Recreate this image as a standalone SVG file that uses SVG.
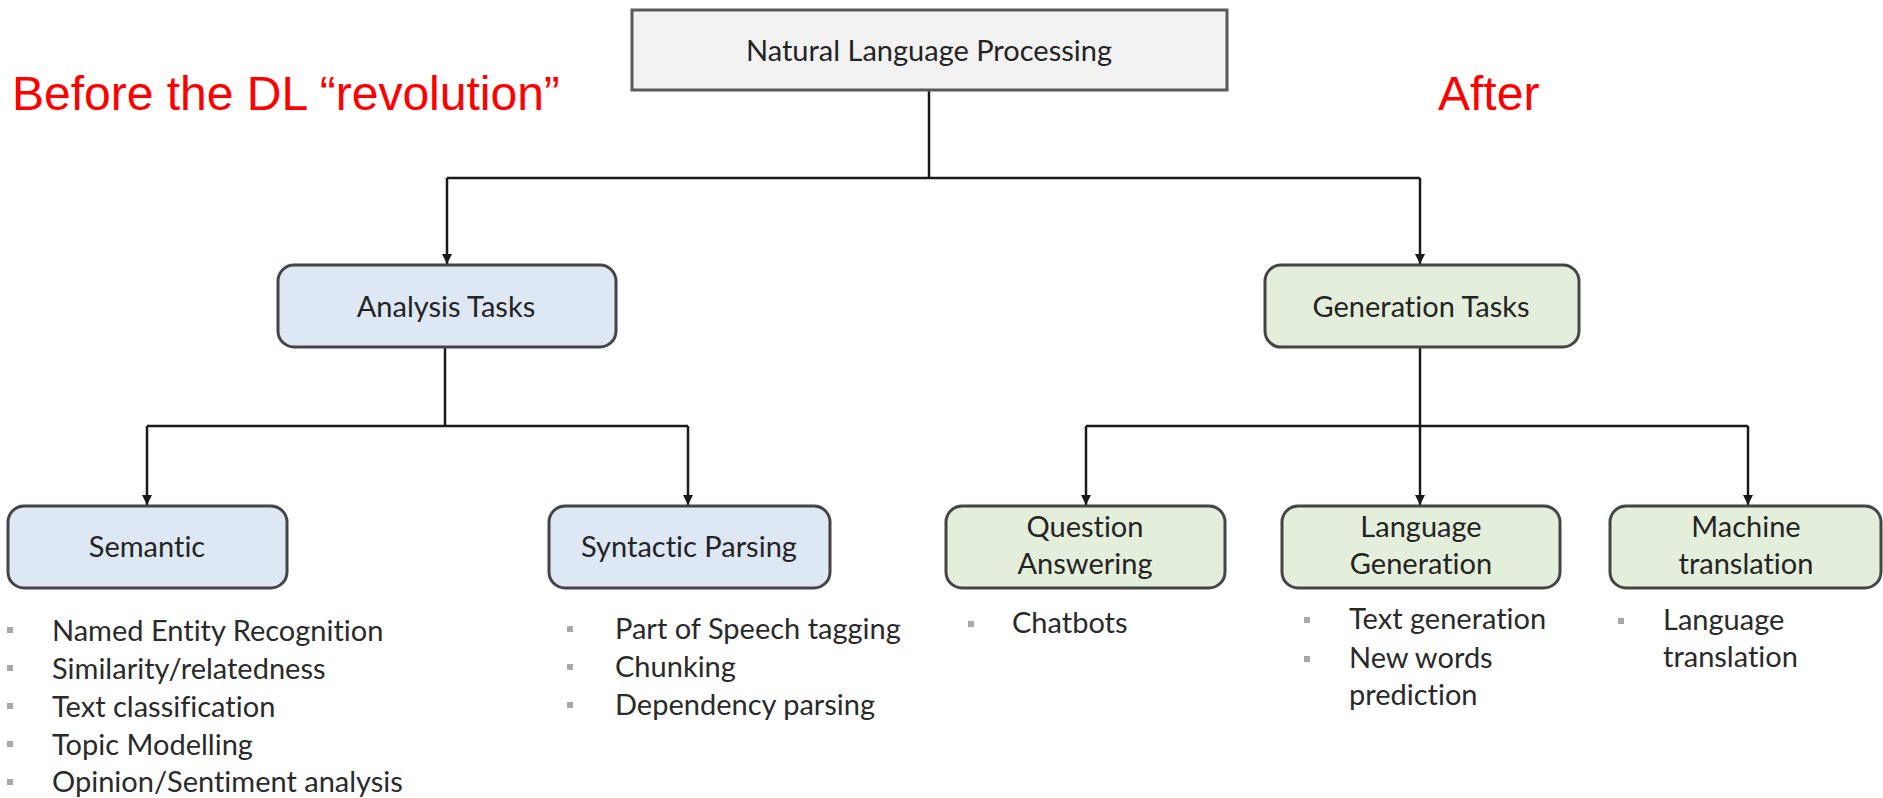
<svg xmlns="http://www.w3.org/2000/svg" width="1883" height="798" viewBox="0 0 1883 798">
  <style>
    .box { stroke: #454545; stroke-width: 3; }
    .root { fill: #f2f2f2; stroke: #5a5a5a; stroke-width: 3; }
    .blue { fill: #dde8f4; }
    .green { fill: #e4efdb; }
    .lbl { font-family: Lato, "Open Sans", sans-serif; font-size: 29px; fill: #242424; text-anchor: middle; font-variant-ligatures: none; }
    .item { font-family: Lato, "Open Sans", sans-serif; font-size: 29px; fill: #2a2a2a; font-variant-ligatures: none; }
    .bul { fill: #a8a8a8; }
    .red { font-family: "Liberation Sans", Arial, sans-serif; font-size: 48px; fill: #ff0000; }
    .wire { fill: none; stroke: #1a1a1a; stroke-width: 2.5; }
  </style>
  <defs>
    <marker id="arrow" viewBox="0 0 10 10" refX="10" refY="5" markerWidth="10" markerHeight="10" markerUnits="userSpaceOnUse" orient="auto">
      <path d="M0 0 L10 5 L0 10 Z" fill="#1a1a1a"/>
    </marker>
  </defs>

  <rect width="1883" height="798" fill="#ffffff"/>

  <!-- era captions -->
  <text class="red" x="12" y="110">Before the DL “revolution”</text>
  <text class="red" x="1438" y="110">After</text>

  <!-- connectors: trunks, bus bars, then one arrowed drop per child -->
  <g id="connectors">
    <path class="wire" d="M929 90 V178"/>
    <path class="wire" d="M447 178 H1420"/>
    <path class="wire" d="M447 178 V264" marker-end="url(#arrow)"/>
    <path class="wire" d="M1420 178 V264" marker-end="url(#arrow)"/>

    <path class="wire" d="M445 347 V426"/>
    <path class="wire" d="M147 426 H688"/>
    <path class="wire" d="M147 426 V505" marker-end="url(#arrow)"/>
    <path class="wire" d="M688 426 V505" marker-end="url(#arrow)"/>

    <path class="wire" d="M1420 347 V505" marker-end="url(#arrow)"/>
    <path class="wire" d="M1086 426 H1748"/>
    <path class="wire" d="M1086 426 V505" marker-end="url(#arrow)"/>
    <path class="wire" d="M1748 426 V505" marker-end="url(#arrow)"/>
  </g>

  <g id="nlp">
    <rect class="root" x="632" y="10" width="595" height="80"/>
    <text class="lbl" x="929" y="61">Natural Language Processing</text>
  </g>

  <g id="analysis">
    <rect class="box blue" x="278" y="265" width="338" height="82" rx="16"/>
    <text class="lbl" x="446" y="317">Analysis Tasks</text>
  </g>

  <g id="generation">
    <rect class="box green" x="1265" y="265" width="314" height="82" rx="16"/>
    <text class="lbl" x="1421" y="317">Generation Tasks</text>
  </g>

  <g id="semantic">
    <rect class="box blue" x="8" y="506" width="279" height="82" rx="16"/>
    <text class="lbl" x="147" y="557">Semantic</text>
    <rect class="bul" x="7" y="627" width="6" height="6"/>
    <rect class="bul" x="7" y="665" width="6" height="6"/>
    <rect class="bul" x="7" y="703" width="6" height="6"/>
    <rect class="bul" x="7" y="741" width="6" height="6"/>
    <rect class="bul" x="7" y="779" width="6" height="6"/>
    <text class="item" x="52" y="641">Named Entity Recognition</text>
    <text class="item" x="52" y="679">Similarity/relatedness</text>
    <text class="item" x="52" y="717">Text classification</text>
    <text class="item" x="52" y="755">Topic Modelling</text>
    <text class="item" x="52" y="792">Opinion/Sentiment analysis</text>
  </g>

  <g id="syntactic">
    <rect class="box blue" x="549" y="506" width="281" height="82" rx="16"/>
    <text class="lbl" x="689" y="557">Syntactic Parsing</text>
    <rect class="bul" x="567" y="626" width="6" height="6"/>
    <rect class="bul" x="567" y="664" width="6" height="6"/>
    <rect class="bul" x="567" y="702" width="6" height="6"/>
    <text class="item" x="615" y="639">Part of Speech tagging</text>
    <text class="item" x="615" y="677">Chunking</text>
    <text class="item" x="615" y="715">Dependency parsing</text>
  </g>

  <g id="qa">
    <rect class="box green" x="946" y="506" width="279" height="82" rx="16"/>
    <text class="lbl" x="1085" y="537">Question</text>
    <text class="lbl" x="1085" y="574">Answering</text>
    <rect class="bul" x="968" y="621" width="6" height="6"/>
    <text class="item" x="1012" y="633">Chatbots</text>
  </g>

  <g id="langgen">
    <rect class="box green" x="1282" y="506" width="278" height="82" rx="16"/>
    <text class="lbl" x="1421" y="537">Language</text>
    <text class="lbl" x="1421" y="574">Generation</text>
    <rect class="bul" x="1304" y="617" width="6" height="6"/>
    <rect class="bul" x="1304" y="656" width="6" height="6"/>
    <text class="item" x="1349" y="629">Text generation</text>
    <text class="item" x="1349" y="668">New words</text>
    <text class="item" x="1349" y="705">prediction</text>
  </g>

  <g id="mt">
    <rect class="box green" x="1610" y="506" width="271" height="82" rx="16"/>
    <text class="lbl" x="1746" y="537">Machine</text>
    <text class="lbl" x="1746" y="574">translation</text>
    <rect class="bul" x="1618" y="618" width="6" height="6"/>
    <text class="item" x="1663" y="630">Language</text>
    <text class="item" x="1663" y="667">translation</text>
  </g>
</svg>
